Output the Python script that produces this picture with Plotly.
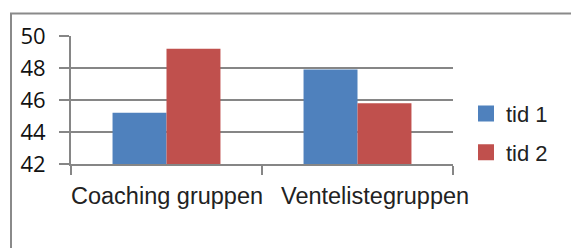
import plotly.graph_objects as go

categories = ["Coaching gruppen", "Ventelistegruppen"]
series_names = ["tid 1", "tid 2"]
tid1 = [45.2, 47.9]
tid2 = [49.2, 45.8]
y_ticks = [42, 44, 46, 48, 50]
colors = ["#4F81BD", "#C0504D"]
label_shift = [0, 17]

# page has an 8px body margin; figure is shifted to compensate
OFF = 8
W, H = 579 - OFF, 248 - OFF
L, T = 71 - OFF, 36 - OFF
pw, ph = 382, 128.5
R, B = W - L - pw, H - T - ph

fig = go.Figure()
for name, vals, c in zip(series_names, [tid1, tid2], colors):
    fig.add_trace(go.Bar(x=categories, y=vals, name=name, marker_color=c,
                         marker_line_width=0, showlegend=False))
for i, (name, c) in enumerate(zip(series_names, colors)):
    fig.add_trace(go.Scatter(x=[None], y=[None], mode="markers", name=name,
                             legendgroup=f"g{i}",
                             marker=dict(symbol="square", size=16, color=c)))

for cat, dx in zip(categories, label_shift):
    fig.add_annotation(x=cat, y=0, xref="x", yref="paper", yanchor="top",
                       xshift=dx, yshift=-17, showarrow=False, text=cat,
                       font=dict(size=23.5, family="Liberation Sans, Arial", color="#222222"))

gray = "#868686"
fig.add_shape(type="rect", xref="paper", yref="paper",
              x0=(11 - OFF - L) / pw, x1=(W + 10 - L) / pw,
              y0=-(H + 10 - T - ph) / ph, y1=(T + ph - (13.5 - OFF)) / ph,
              line=dict(color="#8a8a8a", width=2), layer="below")

fig.update_layout(
    template="none",
    width=W, height=H, margin=dict(l=L, r=R, t=T, b=B, pad=0, autoexpand=False),
    paper_bgcolor="white", plot_bgcolor="white",
    barmode="group", bargap=0.435, bargroupgap=0,
    font=dict(family="Liberation Sans, Arial", color="#222222"),
    showlegend=True,
    legend=dict(x=(458 - L) / pw, xanchor="left", y=(T + ph - 85) / ph, yanchor="top",
                font=dict(size=22, family="Liberation Sans, Arial", color="#222222"),
                tracegroupgap=7, bgcolor="rgba(0,0,0,0)", itemwidth=30, borderwidth=0),
    xaxis=dict(automargin=False, range=[-0.5, 1.5], showgrid=False, showline=True,
               linecolor=gray, linewidth=2,
               ticks="outside", tickson="boundaries", ticklen=9, tickwidth=2, tickcolor=gray,
               showticklabels=False, fixedrange=True),
    yaxis=dict(automargin=False, range=[42, 50], tickvals=y_ticks, showgrid=True,
               gridcolor=gray, gridwidth=2,
               showline=True, linecolor=gray, linewidth=2, zeroline=False,
               ticks="outside", ticklen=10, tickwidth=2, tickcolor=gray,
               tickfont=dict(size=22, family="Open Sans", color="#111111"),
               ticklabelstandoff=9),
)

fig.write_html("out.html")
